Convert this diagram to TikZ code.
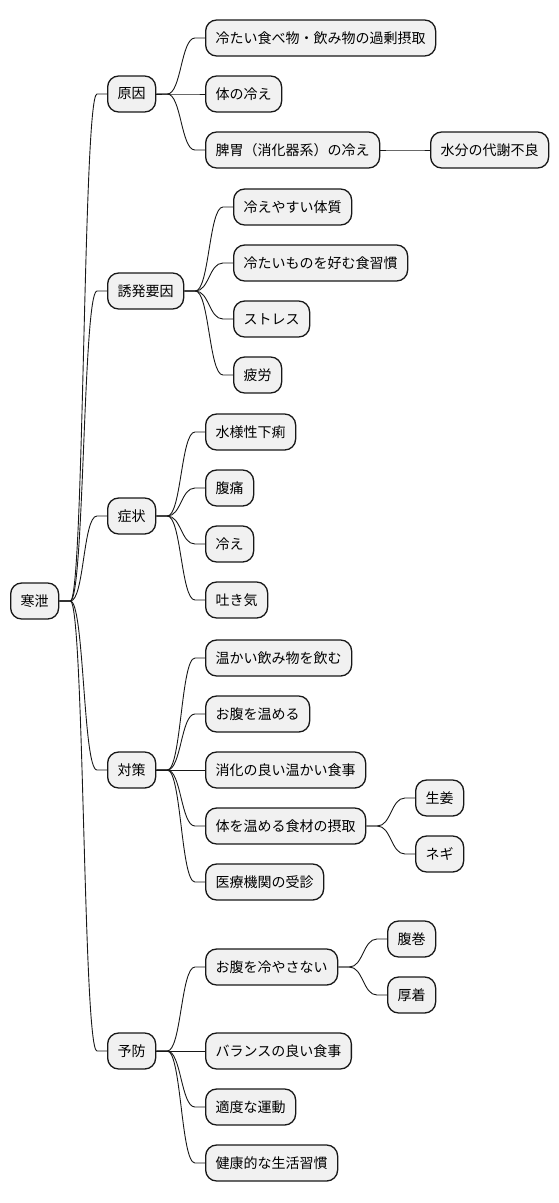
\documentclass[tikz,border=0pt]{standalone}
\usepackage{fontspec}
\setmainfont{Noto Sans CJK JP}
\usetikzlibrary{calc}
\definecolor{nodefill}{HTML}{F1F1F1}
\definecolor{nodeline}{HTML}{181818}
\tikzset{
  mm/.style={draw=nodeline, fill=nodefill, line width=1.3pt, rounded corners=11pt,
    minimum height=36pt, inner xsep=10pt, inner ysep=0pt, anchor=west,
    font=\fontsize{14pt}{16pt}\selectfont, text=black},
  conn/.style={draw=nodeline, line width=0.9pt}
}
\newcommand\lnk[2]{\draw[conn] let \p1=(#1.east), \p2=(#2.west) in (\p1) -- (\x1+11pt,\y1) .. controls (\x1+25pt,\y1) and (\x2-24pt,\y2) .. (\x2-10pt,\y2) -- (\p2);}
\begin{document}
\begin{tikzpicture}[x=1pt,y=-1pt]
\useasboundingbox (0,0) rectangle (558,1203);
\node[mm] (r) at (10,601) {寒泄};
\node[mm] (a) at (107,94) {原因};
\node[mm] (b) at (107,291) {誘発要因};
\node[mm] (c) at (107,516) {症状};
\node[mm] (d) at (107,770) {対策};
\node[mm] (e) at (107,1051) {予防};
% 原因
\node[mm] (a1) at (205,38) {冷たい食べ物・飲み物の過剰摂取};
\node[mm] (a2) at (205,94) {体の冷え};
\node[mm] (a3) at (205,150) {脾胃（消化器系）の冷え};
\node[mm] (a31) at (430,150) {水分の代謝不良};
% 誘発要因
\node[mm] (b1) at (233,207) {冷えやすい体質};
\node[mm] (b2) at (233,263) {冷たいものを好む食習慣};
\node[mm] (b3) at (233,319) {ストレス};
\node[mm] (b4) at (233,375) {疲労};
% 症状
\node[mm] (c1) at (205,432) {水様性下痢};
\node[mm] (c2) at (205,488) {腹痛};
\node[mm] (c3) at (205,544) {冷え};
\node[mm] (c4) at (205,600) {吐き気};
% 対策
\node[mm] (d1) at (205,658) {温かい飲み物を飲む};
\node[mm] (d2) at (205,714) {お腹を温める};
\node[mm] (d3) at (205,770) {消化の良い温かい食事};
\node[mm] (d4) at (205,826) {体を温める食材の摂取};
\node[mm] (d41) at (415,798) {生姜};
\node[mm] (d42) at (415,854) {ネギ};
\node[mm] (d5) at (205,882) {医療機関の受診};
% 予防
\node[mm] (e1) at (205,967) {お腹を冷やさない};
\node[mm] (e11) at (387,939) {腹巻};
\node[mm] (e12) at (387,995) {厚着};
\node[mm] (e2) at (205,1051) {バランスの良い食事};
\node[mm] (e3) at (205,1107) {適度な運動};
\node[mm] (e4) at (205,1163) {健康的な生活習慣};
% connectors
\lnk{r}{a}\lnk{r}{b}\lnk{r}{c}\lnk{r}{d}\lnk{r}{e}
\lnk{a}{a1}\lnk{a}{a2}\lnk{a}{a3}\lnk{a3}{a31}
\lnk{b}{b1}\lnk{b}{b2}\lnk{b}{b3}\lnk{b}{b4}
\lnk{c}{c1}\lnk{c}{c2}\lnk{c}{c3}\lnk{c}{c4}
\lnk{d}{d1}\lnk{d}{d2}\lnk{d}{d3}\lnk{d}{d4}\lnk{d}{d5}
\lnk{d4}{d41}\lnk{d4}{d42}
\lnk{e}{e1}\lnk{e}{e2}\lnk{e}{e3}\lnk{e}{e4}
\lnk{e1}{e11}\lnk{e1}{e12}
\end{tikzpicture}
\end{document}
